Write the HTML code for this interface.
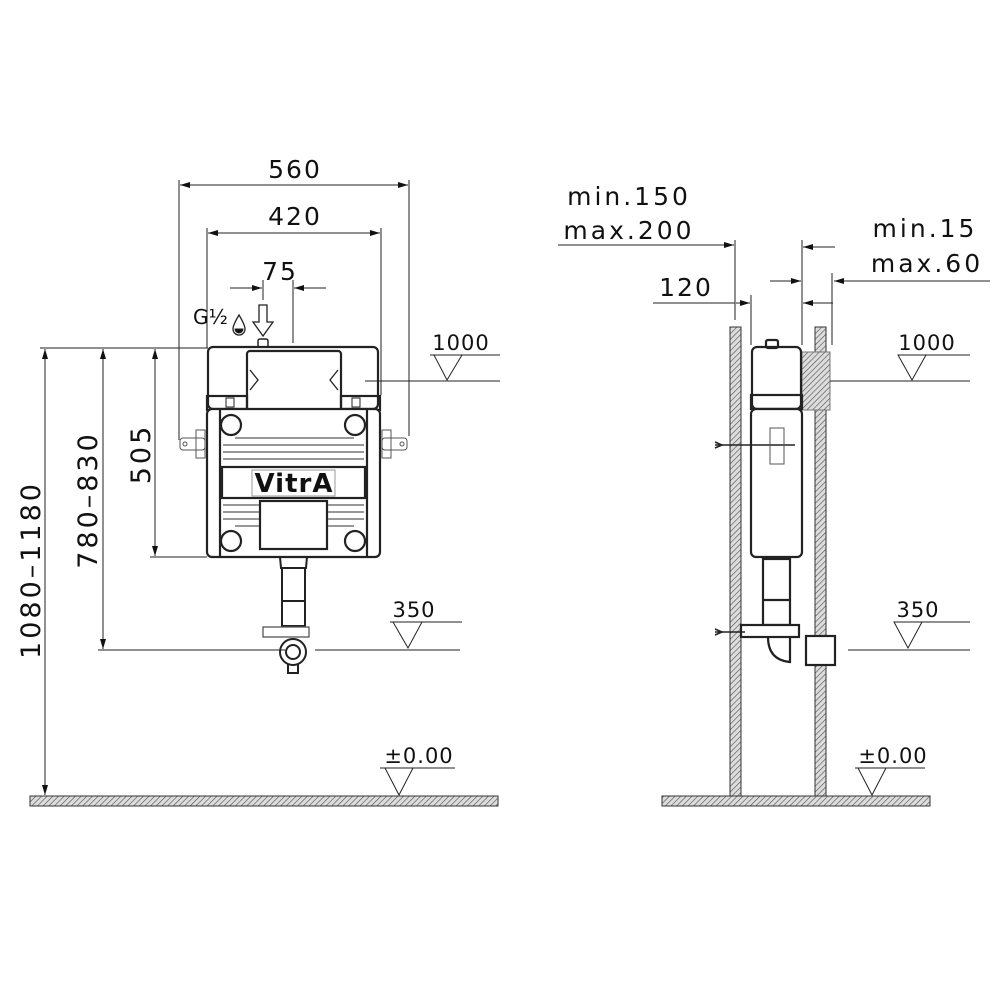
<!DOCTYPE html>
<html><head><meta charset="utf-8"><style>
html,body{margin:0;padding:0;background:#fff;}
svg{display:block;}
text{font-family:"DejaVu Sans","Liberation Sans",sans-serif;fill:#111;}
</style></head><body>
<svg width="1000" height="1000" viewBox="0 0 1000 1000" xmlns="http://www.w3.org/2000/svg">
<defs>
<pattern id="h" width="4" height="4" patternUnits="userSpaceOnUse" patternTransform="rotate(45)">
<rect width="4" height="4" fill="#ddd"/><line x1="0" y1="0" x2="0" y2="4" stroke="#555" stroke-width="1.3"/></pattern>
<marker id="a" viewBox="0 0 10 6" refX="10" refY="3" markerWidth="10" markerHeight="6" orient="auto-start-reverse" markerUnits="userSpaceOnUse">
<path d="M0,0 L10,3 L0,6 z" fill="#111"/></marker>
</defs>
<g stroke="#222" stroke-width="1" fill="none">
<rect x="30" y="796" width="468" height="10" fill="url(#h)" stroke="#333"/>
<rect x="662" y="796" width="268" height="10" fill="url(#h)" stroke="#333"/>

<line x1="179" y1="180" x2="179" y2="440"/><line x1="409" y1="180" x2="409" y2="436"/>
<line x1="180" y1="185" x2="408" y2="185" marker-start="url(#a)" marker-end="url(#a)"/>
<line x1="207" y1="228" x2="207" y2="348"/><line x1="381" y1="228" x2="381" y2="395"/>
<line x1="208" y1="233" x2="380" y2="233" marker-start="url(#a)" marker-end="url(#a)"/>
<line x1="263" y1="280" x2="263" y2="300"/><line x1="293" y1="280" x2="293" y2="343"/>
<line x1="230" y1="288" x2="262" y2="288" marker-end="url(#a)"/>
<line x1="326" y1="288" x2="294" y2="288" marker-end="url(#a)"/>

<line x1="40" y1="348" x2="208" y2="348"/>
<line x1="45" y1="349" x2="45" y2="795" marker-start="url(#a)" marker-end="url(#a)"/>
<line x1="103" y1="349" x2="103" y2="649" marker-start="url(#a)" marker-end="url(#a)"/>
<line x1="98" y1="650" x2="285" y2="650"/>
<line x1="155" y1="349" x2="155" y2="556" marker-start="url(#a)" marker-end="url(#a)"/>
<line x1="150" y1="557" x2="207" y2="557"/>

<path d="M259,305 L267,305 L267,322 L273,322 L263,336 L253,322 L259,322 Z" stroke-width="1.3"/>
<path d="M239,315 Q233,325 233,329 A6,6 0 0 0 245,329 Q245,325 239,315 Z" stroke-width="1.3"/>
<path d="M235,329 A4,4 0 0 0 243,329 Z" fill="#111"/>
<rect x="258" y="339" width="10" height="8" rx="2" stroke-width="1.5"/>

<g stroke-width="2.2">
<rect x="208" y="347" width="170" height="62" rx="5"/>
<rect x="247" y="351" width="94" height="60" rx="3" fill="#fff"/>
<rect x="207" y="396" width="40" height="14"/><rect x="341" y="396" width="39" height="14"/>
<rect x="207" y="409" width="173" height="148" rx="5" fill="#fff"/>
<line x1="220" y1="410" x2="220" y2="556"/><line x1="367" y1="410" x2="367" y2="556"/>
<circle cx="231" cy="425" r="10"/><circle cx="355" cy="425" r="10"/>
<circle cx="231" cy="541" r="10"/><circle cx="355" cy="541" r="10"/>
<rect x="222" y="467" width="143" height="31"/>
<rect x="260" y="501" width="67" height="48"/>
</g>
<g stroke="#777" stroke-width="1.5">
<line x1="235" y1="438" x2="354" y2="438"/><line x1="223" y1="445" x2="364" y2="445"/>
<line x1="223" y1="452" x2="364" y2="452"/><line x1="223" y1="459" x2="364" y2="459"/>
<line x1="223" y1="505" x2="259" y2="505"/><line x1="328" y1="505" x2="364" y2="505"/>
<line x1="223" y1="512" x2="259" y2="512"/><line x1="328" y1="512" x2="364" y2="512"/>
<line x1="223" y1="519" x2="259" y2="519"/><line x1="328" y1="519" x2="364" y2="519"/>
<line x1="235" y1="526" x2="259" y2="526"/><line x1="328" y1="526" x2="354" y2="526"/>
</g>
<rect x="252" y="470" width="83" height="26" stroke="#999"/>
<path d="M250,370 L258,380 L250,390" stroke-width="1.3"/><path d="M338,370 L330,380 L338,390" stroke-width="1.3"/>
<rect x="226" y="398" width="8" height="9"/><rect x="352" y="398" width="8" height="9"/>
<g stroke="#555">
<rect x="180" y="438" width="25" height="12" rx="3"/><circle cx="185" cy="444" r="2"/><rect x="196" y="430" width="9" height="28"/>
<rect x="382" y="438" width="25" height="12" rx="3"/><circle cx="402" cy="444" r="2"/><rect x="382" y="430" width="9" height="28"/>
</g>
<g stroke-width="2">
<path d="M280,557 L281,568 L306,568 L307,557"/>
<rect x="282" y="568" width="23" height="58"/>
<line x1="282" y1="601" x2="305" y2="601"/>
<rect x="263" y="627" width="46" height="10" stroke-width="1.3" stroke="#555"/>
<circle cx="293" cy="652" r="13"/><circle cx="293" cy="652" r="7"/>
<path d="M288,664 L288,673 L298,673 L298,664"/>
</g>

<line x1="430" y1="355" x2="500" y2="355"/><path d="M434,355 L462,355 L447,380 Z"/>
<line x1="365" y1="381" x2="500" y2="381"/>
<line x1="390" y1="622" x2="462" y2="622"/><path d="M393,622 L422,622 L408,648 Z"/>
<line x1="315" y1="650" x2="460" y2="650"/>
<line x1="380" y1="768" x2="455" y2="768"/><path d="M385,768 L413,768 L399,795 Z"/>

<rect x="730" y="327" width="11" height="469" fill="url(#h)" stroke="#333"/>
<rect x="815" y="327" width="11" height="469" fill="url(#h)" stroke="#333"/>
<line x1="558" y1="245" x2="734" y2="245" marker-end="url(#a)"/>
<line x1="735" y1="240" x2="735" y2="320"/>
<line x1="653" y1="303" x2="735" y2="303"/>
<line x1="736" y1="303" x2="750" y2="303" marker-end="url(#a)"/>
<line x1="751" y1="295" x2="751" y2="345"/>
<line x1="802" y1="240" x2="802" y2="345"/>
<line x1="835" y1="247" x2="803" y2="247" marker-end="url(#a)"/>
<line x1="770" y1="281" x2="801" y2="281" marker-end="url(#a)"/>
<line x1="833" y1="303" x2="803" y2="303" marker-end="url(#a)"/>
<line x1="832" y1="273" x2="832" y2="345"/>
<line x1="990" y1="281" x2="834" y2="281" marker-end="url(#a)"/>

<rect x="802" y="352" width="28" height="58" fill="url(#h)" stroke="#777"/>
<g stroke-width="2.2">
<rect x="752" y="347" width="49" height="62" rx="5" fill="#fff"/>
<rect x="766" y="340" width="12" height="8" rx="2"/>
<rect x="751" y="395" width="51" height="14"/>
<rect x="751" y="409" width="51" height="148" rx="5" fill="#fff"/>
<rect x="763" y="559" width="27" height="66"/>
<line x1="763" y1="600" x2="790" y2="600"/>
<rect x="741" y="625" width="58" height="12" fill="#fff"/>
<path d="M768,637 Q768,660 790,662 L790,637"/>
<rect x="806" y="636" width="29" height="29" fill="#fff"/>
</g>
<line x1="715" y1="445" x2="795" y2="445" stroke-width="1.5"/>
<line x1="715" y1="632" x2="745" y2="632" stroke-width="1.5"/>
<path d="M715,442 L722,445 L715,448 M715,629 L722,632 L715,635" stroke-width="1.5"/>
<rect x="770" y="428" width="14" height="36" stroke="#555"/>

<line x1="900" y1="355" x2="970" y2="355"/><path d="M898,355 L926,355 L912,380 Z"/>
<line x1="830" y1="381" x2="970" y2="381"/>
<line x1="895" y1="622" x2="970" y2="622"/><path d="M894,622 L922,622 L908,648 Z"/>
<line x1="848" y1="650" x2="970" y2="650"/>
<line x1="855" y1="768" x2="925" y2="768"/><path d="M858,768 L886,768 L872,795 Z"/>
</g>

<g font-size="25" letter-spacing="2">
<text x="295" y="178" text-anchor="middle">560</text>
<text x="295" y="225" text-anchor="middle">420</text>
<text x="280" y="280" text-anchor="middle">75</text>
<g font-size="21" letter-spacing="1">
<text x="461" y="350" text-anchor="middle">1000</text>
<text x="414" y="617" text-anchor="middle">350</text>
<text x="419" y="763" text-anchor="middle">±0.00</text>
<text x="927" y="350" text-anchor="middle">1000</text>
<text x="918" y="617" text-anchor="middle">350</text>
<text x="893" y="763" text-anchor="middle">±0.00</text>
</g>
<text transform="translate(40,570) rotate(-90)" text-anchor="middle" font-size="27" letter-spacing="3">1080–1180</text>
<text transform="translate(97,500) rotate(-90)" text-anchor="middle" font-size="27" letter-spacing="3">780–830</text>
<text transform="translate(150,454) rotate(-90)" text-anchor="middle" font-size="27" letter-spacing="3">505</text>
<text x="629" y="205" text-anchor="middle" letter-spacing="3">min.150</text>
<text x="629" y="239" text-anchor="middle" letter-spacing="3">max.200</text>
<text x="686" y="296" text-anchor="middle">120</text>
<text x="925" y="237" text-anchor="middle" letter-spacing="3">min.15</text>
<text x="927" y="272" text-anchor="middle" letter-spacing="3">max.60</text>
</g>
<text x="193" y="324" font-size="20">G½</text>
<text x="294" y="492" text-anchor="middle" font-size="26" font-weight="bold" letter-spacing="1">VitrA</text>
</svg>
</body></html>
